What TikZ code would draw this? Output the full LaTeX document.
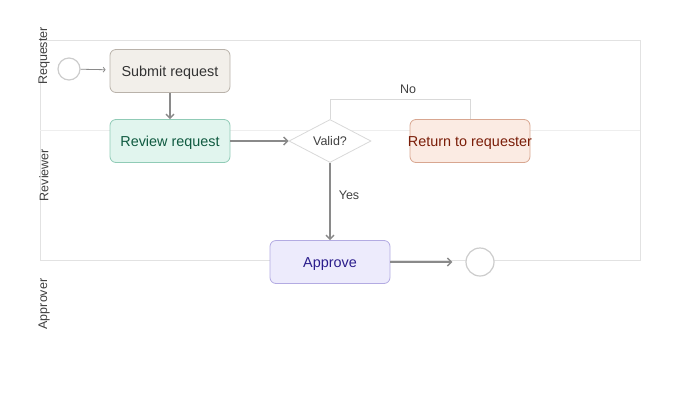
\documentclass[tikz,border=0pt]{standalone}
\usepackage{fontspec}
\setmainfont{Liberation Sans}
\usetikzlibrary{shapes.geometric, arrows.meta}
\definecolor{lanegray}{HTML}{E2E2E2}
\definecolor{flowgray}{HTML}{8A8A8A}
\definecolor{submitfill}{HTML}{F2EFEA}
\definecolor{submitline}{HTML}{B9B2AA}
\definecolor{reviewfill}{HTML}{E1F5EE}
\definecolor{reviewline}{HTML}{90CBB6}
\definecolor{reviewtext}{HTML}{0F5A40}
\definecolor{returnfill}{HTML}{FBEBE3}
\definecolor{returnline}{HTML}{D8A690}
\definecolor{returntext}{HTML}{7A1D08}
\definecolor{approvefill}{HTML}{EDEBFC}
\definecolor{approveline}{HTML}{B3ABE2}
\definecolor{approvetext}{HTML}{2B1D8C}
\begin{document}
\begin{tikzpicture}
    [x = 1pt, y = -1pt,
    task/.style = {draw, rounded corners = 6pt, line width = 0.8pt,
        minimum width = 120pt, minimum height = 43pt,
        text height = 11pt, text depth = 1pt,
        font = \fontsize{14.4}{17}\selectfont},
    event/.style = {circle, draw = black!20, line width = 1.2pt, fill = white},
    lbl/.style = {font = \fontsize{12.5}{15}\selectfont, text = black!75},
    flow/.style = {-{Straight Barb[length = 4pt, width = 8pt]}, draw = flowgray, line width = 1.4pt}]
    \useasboundingbox (0, 0) rectangle (680, 400);
    % lanes
    \draw[lanegray, line width = 0.8pt] (40, 260) -- (40, 40) -- (640, 40) -- (640, 260) -- cycle;
    \draw[lanegray!60, line width = 0.6pt] (40, 130) -- (640, 130);
    \node[lbl, rotate = 90] (lane1) at (44, 56) {Requester};
    \node[lbl, rotate = 90] (lane2) at (44, 175) {Reviewer};
    \node[lbl, rotate = 90] (lane3) at (44, 304) {Approver};
    % nodes
    \node[event, minimum size = 22pt] (start) at (69, 69) {};
    \node[task, fill = submitfill, draw = submitline, text = black!80] (submit) at (170, 71) {Submit request};
    \node[task, fill = reviewfill, draw = reviewline, text = reviewtext] (review) at (170, 141) {Review request};
    \node[diamond, draw = black!15, line width = 0.8pt, fill = white, aspect = 1.9, inner sep = 1pt,
        minimum width = 82pt, minimum height = 43pt, lbl] (valid) at (330, 141) {Valid?};
    \node[task, fill = returnfill, draw = returnline, text = returntext, inner xsep = -3pt] (ret) at (470, 141) {Return to requester};
    \node[task, fill = approvefill, draw = approveline, text = approvetext] (approve) at (330, 262) {Approve};
    \node[event, minimum size = 28pt] (finish) at (480, 262) {};
    % flows
    \draw[-{Straight Barb[length = 2pt, width = 5pt]}, draw = flowgray, line width = 0.8pt, shorten >= 4pt] (start) -- (submit);
    \draw[flow] (submit) -- (review);
    \draw[flow] (review) -- (valid);
    \draw[flow] (valid) -- (approve);
    \node[lbl] (yes) at (349, 195) {Yes};
    \draw[black!15, line width = 1pt] (valid.north) -- ++(0, -20) -| (ret.north);
    \node[lbl] (no) at (408, 89) {No};
    \draw[flow] (approve.east) -- ++(62, 0) coordinate (endin);
    \end{tikzpicture}
\end{document}
